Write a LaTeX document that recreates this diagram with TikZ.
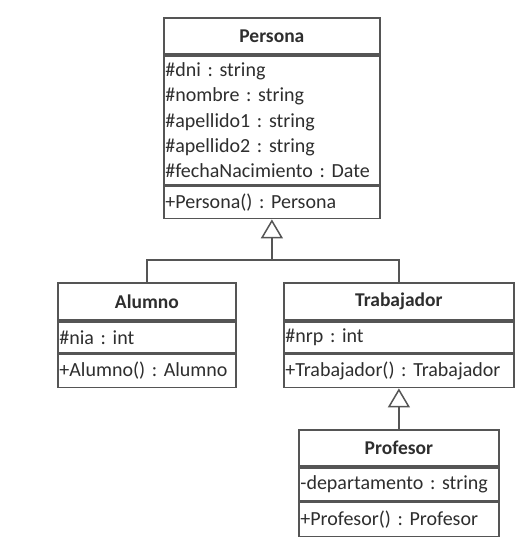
\documentclass[tikz,border=0pt]{standalone}
\usepackage{fontspec}
\setmainfont{Carlito}
\usetikzlibrary{positioning,arrows.meta}

\definecolor{boxgray}{HTML}{555555}
\definecolor{txtgray}{HTML}{2E2E2E}

\tikzset{
  cmp/.style={draw=boxgray, line width=1.8pt, fill=white, inner xsep=1.5pt, inner ysep=0pt,
    text=txtgray, align=left, font=\fontsize{20}{25.4}\selectfont\frenchspacing},
  hd/.style={cmp, align=center, font=\fontsize{19.5}{22}\selectfont\bfseries, anchor=north west},
  gen/.style={draw=boxgray, line width=1.5pt, -{Triangle[open, width=22pt, length=19pt, line width=1.5pt]}},
  link/.style={draw=boxgray, line width=1.5pt}
}

\begin{document}
\begin{tikzpicture}[x=1pt,y=1pt]
\useasboundingbox (0,0) rectangle (523,-539);

% Persona
\node[hd, minimum width=216, minimum height=36] (persona) at (163,-17) {Persona};
\node[cmp, text width=213, minimum height=129, below=0pt of persona] (personaAttr)
  {\#dni : string\\\#nombre : string\\\#apellido1 : string\\\#apellido2 : string\\\#fechaNacimiento : Date};
\node[cmp, text width=213, minimum height=32, below=0pt of personaAttr] (personaOps) {+Persona() : Persona};

% Alumno
\node[hd, minimum width=178, minimum height=37] (alumno) at (57,-282) {Alumno};
\node[cmp, text width=175, minimum height=31, below=0pt of alumno] (alumnoAttr) {\#nia : int};
\node[cmp, text width=175, minimum height=33, below=0pt of alumnoAttr] (alumnoOps) {+Alumno() : Alumno};

% Trabajador
\node[hd, minimum width=230, minimum height=37] (trabajador) at (283,-282) {Trabajador};
\node[cmp, text width=227, minimum height=31, below=0pt of trabajador] (trabajadorAttr) {\#nrp : int};
\node[cmp, text width=227, minimum height=33, below=0pt of trabajadorAttr] (trabajadorOps) {+Trabajador() : Trabajador};

% Profesor
\node[hd, minimum width=200, minimum height=36] (profesor) at (298,-429) {Profesor};
\node[cmp, text width=197, minimum height=33, below=0pt of profesor] (profesorAttr) {-departamento : string};
\node[cmp, text width=197, minimum height=34, below=0pt of profesorAttr] (profesorOps) {+Profesor() : Profesor};

% herencia
\coordinate (fork) at (personaOps.south |- 0,-260);
\draw[link] (alumno.north) |- (fork);
\draw[link] (trabajador.north) |- (fork);
\draw[gen] (fork) -- (personaOps.south);
\draw[gen] (profesor.north) -- (trabajadorOps.south);

\end{tikzpicture}
\end{document}
